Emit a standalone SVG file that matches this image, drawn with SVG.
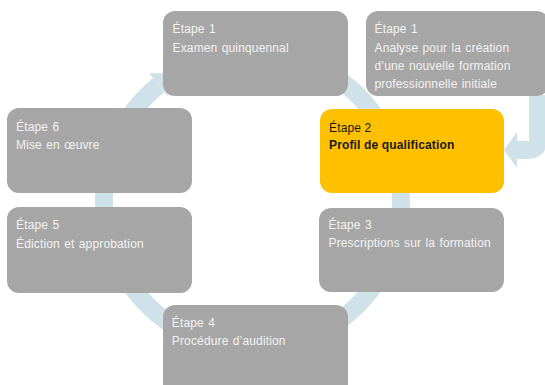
<svg xmlns="http://www.w3.org/2000/svg" width="545" height="385" viewBox="0 0 545 385">
<style>
.box{fill:#a6a6a6}
.hl{fill:#ffc000}
.t{font-family:"Liberation Sans",Arial,sans-serif;font-size:12px;fill:#f2f2f2;letter-spacing:0.15px;word-spacing:0.8px}
.tb{font-family:"Liberation Sans",Arial,sans-serif;font-size:12px;fill:#1a1a1a;letter-spacing:0.15px}
.b{font-weight:bold}
.ring{fill:none;stroke:#cfe1e9;stroke-width:18}
.head{fill:#cfe1e9}
</style>
<rect width="545" height="385" fill="#ffffff"/>
<g id="connectors">
  <path class="ring" d="M 201.7 60.5 A 148.5 148.5 0 1 1 158.7 84.9"/>
  <polygon class="head" points="149.2,73.3 173,73.3 168.2,96.5"/>
  <path class="ring" d="M 538 95 V 140 Q 538 150 528 150 H 514" stroke-width="16"/>
  <polygon class="head" points="517,132 504,150 517,168"/>
</g>
<g id="step1-examen">
  <rect class="box" x="163" y="11" width="185" height="85" rx="12"/>
  <text class="t" x="172.5" y="33">Étape 1</text>
  <text class="t" x="172.5" y="51.5">Examen quinquennal</text>
</g>
<g id="step1-analyse">
  <rect class="box" x="366" y="11" width="183" height="85" rx="12"/>
  <text class="t" x="374.5" y="33">Étape 1</text>
  <text class="t" x="374.5" y="51.5">Analyse pour la création</text>
  <text class="t" x="374.5" y="69.5">d’une nouvelle formation</text>
  <text class="t" x="374.5" y="87.5">professionnelle initiale</text>
</g>
<g id="step2">
  <rect class="hl" x="320" y="109" width="184" height="84" rx="12"/>
  <text class="tb" x="329" y="131.5">Étape 2</text>
  <text class="tb b" x="329" y="149">Profil de qualification</text>
</g>
<g id="step3">
  <rect class="box" x="319" y="208" width="185" height="84" rx="12"/>
  <text class="t" x="328.5" y="229.3">Étape 3</text>
  <text class="t" x="328.5" y="247.3">Prescriptions sur la formation</text>
</g>
<g id="step4">
  <rect class="box" x="163" y="305" width="185" height="95" rx="12"/>
  <text class="t" x="171.8" y="326.7">Étape 4</text>
  <text class="t" x="171.8" y="345">Procédure d’audition</text>
</g>
<g id="step5">
  <rect class="box" x="7" y="207" width="185" height="86" rx="12"/>
  <text class="t" x="16" y="229.3">Étape 5</text>
  <text class="t" x="16" y="247.7">Édiction et approbation</text>
</g>
<g id="step6">
  <rect class="box" x="7" y="108" width="185" height="85" rx="12"/>
  <text class="t" x="16" y="130.7">Étape 6</text>
  <text class="t" x="16" y="149">Mise en œuvre</text>
</g>
</svg>
